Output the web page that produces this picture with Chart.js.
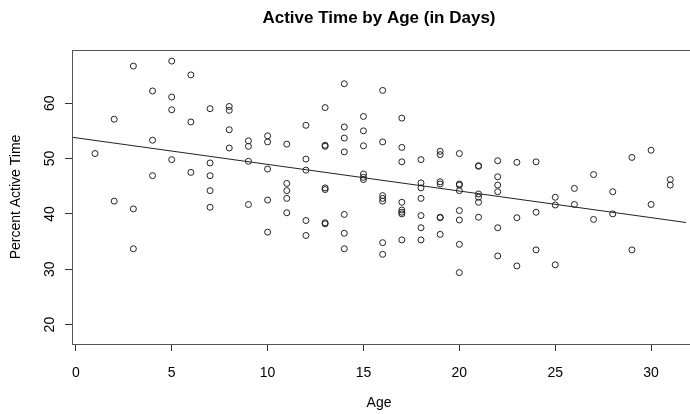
<!DOCTYPE html>
<html>
<head>
<meta charset="utf-8">
<title>Active Time by Age</title>
<script src="https://cdn.jsdelivr.net/npm/chart.js@4/dist/chart.umd.min.js"></script>
<style>
  html, body { margin: 0; padding: 0; background: #fff; }
  canvas { display: block; }
</style>
</head>
<body>
<canvas id="myChart" width="690" height="414"></canvas>
<script>
// age (days) and percent active time
let ages = [
    1,
    2, 2,
    3, 3, 3,
    4, 4, 4,
    5, 5, 5, 5,
    6, 6, 6,
    7, 7, 7, 7, 7,
    8, 8, 8, 8,
    9, 9, 9, 9,
    10, 10, 10, 10, 10,
    11, 11, 11, 11, 11,
    12, 12, 12, 12, 12,
    13, 13, 13, 13, 13, 13, 13,
    14, 14, 14, 14, 14, 14, 14,
    15, 15, 15, 15, 15, 15,
    16, 16, 16, 16, 16, 16, 16,
    17, 17, 17, 17, 17, 17, 17, 17,
    18, 18, 18, 18, 18, 18, 18,
    19, 19, 19, 19, 19, 19, 19,
    20, 20, 20, 20, 20, 20, 20, 20,
    21, 21, 21, 21, 21, 21,
    22, 22, 22, 22, 22, 22,
    23, 23, 23,
    24, 24, 24,
    25, 25, 25,
    26, 26,
    27, 27,
    28, 28,
    29, 29,
    30, 30,
    31, 31
];
let activeTime = [
    50.9,
    57.1, 42.3,
    66.7, 40.9, 33.7,
    62.2, 53.3, 46.9,
    67.6, 61.1, 58.8, 49.8,
    65.1, 56.6, 47.5,
    59.0, 49.2, 46.9, 44.2, 41.2,
    59.4, 58.7, 55.2, 51.9,
    53.2, 52.2, 49.5, 41.7,
    54.1, 53.0, 48.1, 42.5, 36.7,
    52.6, 45.5, 44.2, 42.8, 40.2,
    56.0, 49.9, 47.9, 38.8, 36.1,
    59.2, 52.4, 52.2, 44.7, 44.4, 38.4, 38.2,
    63.5, 55.7, 53.7, 51.2, 39.9, 36.5, 33.7,
    57.6, 55.0, 52.3, 47.2, 46.6, 46.2,
    62.3, 53.0, 43.3, 42.8, 42.3, 34.8, 32.7,
    57.3, 52.0, 49.4, 42.1, 40.7, 40.3, 40.0, 35.3,
    49.8, 45.6, 44.7, 42.8, 39.7, 37.5, 35.3,
    51.3, 50.7, 45.8, 45.4, 39.4, 39.3, 36.3,
    50.9, 45.4, 45.2, 44.2, 40.6, 38.9, 34.5, 29.4,
    48.7, 48.6, 43.6, 43.0, 42.1, 39.4,
    49.6, 46.7, 45.2, 44.0, 37.5, 32.4,
    49.3, 39.3, 30.6,
    49.4, 40.3, 33.5,
    43.0, 41.6, 30.8,
    44.6, 41.7,
    47.1, 39.0,
    44.0, 40.0,
    50.2, 33.5,
    51.5, 41.7,
    46.2, 45.2
];

let xTicks = [0, 5, 10, 15, 20, 25, 30];
let yTicks = [20, 30, 40, 50, 60];

// fitted line as drawn in the original (abline)
let fitIntercept = 53.75;
let fitSlope = -0.481;

let xMin = -0.2, xMax = 31.82;
let yMin = 16.5, yMax = 69.6;

let fontFamily = "'Liberation Sans', Arial, sans-serif";

let points = ages.map((a, i) => ({ x: a, y: activeTime[i] }));
let fitLine = [xMin, xMax].map(x => ({ x: x, y: fitIntercept + fitSlope * x }));

// R style frame round the plot region
const boxPlugin = {
    id: 'box',
    afterDatasetsDraw(chart) {
        const { ctx, chartArea: a } = chart;
        ctx.save();
        ctx.strokeStyle = '#555';
        ctx.lineWidth = 1;
        ctx.strokeRect(a.left + 0.5, a.top + 0.5, a.right - a.left + 10, a.bottom - a.top);
        ctx.restore();
    }
};

let ctx = document.getElementById('myChart').getContext('2d');
new Chart(ctx, {
    type: 'scatter',
    data: {
        datasets: [{
            label: 'Active time',
            data: points,
            pointStyle: 'circle',
            pointRadius: 3,
            pointHoverRadius: 3,
            backgroundColor: 'rgba(0,0,0,0)',
            borderColor: '#222',
            borderWidth: 1
        }, {
            type: 'line',
            label: 'Fit',
            data: fitLine,
            borderColor: '#222',
            borderWidth: 1,
            pointRadius: 0,
            fill: false
        }]
    },
    options: {
        responsive: false,
        animation: false,
        events: [],
        layout: { padding: 0 },
        plugins: {
            legend: { display: false },
            tooltip: { enabled: false },
            title: {
                display: true,
                fullSize: false,
                text: 'Active Time by Age (in Days)',
                color: '#000',
                font: { family: fontFamily, size: 17, weight: 'bold' },
                padding: { top: 8.5, bottom: 21.1 }
            }
        },
        scales: {
            x: {
                type: 'linear',
                min: xMin,
                max: xMax,
                afterBuildTicks: s => { s.ticks = xTicks.map(v => ({ value: v })); },
                afterFit: s => { s.height = 70; },
                grid: { drawOnChartArea: false, drawTicks: true, tickLength: 7, color: '#333' },
                border: { display: false },
                ticks: {
                    color: '#000',
                    font: { family: fontFamily, size: 14 },
                    padding: 14,
                    maxRotation: 0
                },
                title: {
                    display: true,
                    text: 'Age',
                    color: '#000',
                    font: { family: fontFamily, size: 14 },
                    padding: { top: 0, bottom: 2.6 }
                }
            },
            y: {
                type: 'linear',
                min: yMin,
                max: yMax,
                afterBuildTicks: s => { s.ticks = yTicks.map(v => ({ value: v })); },
                afterFit: s => { s.width = 72; },
                grid: { drawOnChartArea: false, drawTicks: true, tickLength: 7, color: '#333' },
                border: { display: false },
                ticks: {
                    color: '#000',
                    font: { family: fontFamily, size: 14 },
                    minRotation: 90,
                    maxRotation: 90,
                    crossAlign: 'center',
                    padding: 7.5
                },
                title: {
                    display: true,
                    text: 'Percent Active Time',
                    color: '#000',
                    font: { family: fontFamily, size: 14 },
                    padding: { top: 7.5, bottom: 0 }
                }
            }
        }
    },
    plugins: [boxPlugin]
});
</script>
</body>
</html>
